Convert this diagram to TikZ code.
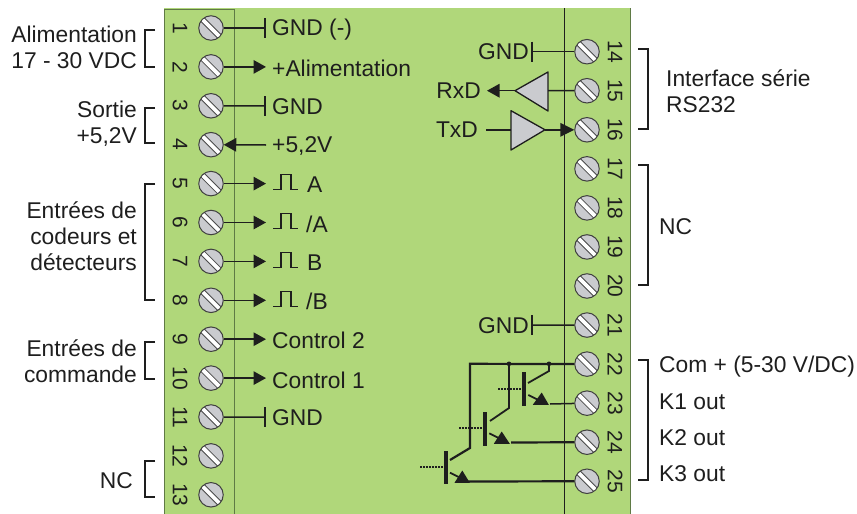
\documentclass[tikz,border=0pt]{standalone}
\usepackage{fontspec}
\setmainfont{Liberation Sans}
\usetikzlibrary{arrows.meta,shapes.geometric,calc}
\definecolor{board}{HTML}{B0D77A}
\definecolor{ink}{HTML}{1E1E1E}
\definecolor{screwgrey}{HTML}{CACBCF}
\definecolor{edgegreen}{HTML}{5F7A45}
\tikzset{
  x=1pt,y=-1pt,
  lab/.style={font=\fontsize{22.8}{26}\selectfont,text=ink,inner sep=0pt},
  labl/.style={lab,anchor=west},
  labr/.style={lab,anchor=east},
  grp/.style={lab,anchor=east,align=right},
  numl/.style={font=\fontsize{21}{24}\selectfont,text=ink,inner sep=0pt,rotate=-90},
  screw/.style={circle,draw=ink!85,line width=1pt,fill=screwgrey,minimum size=24.5pt,inner sep=0pt,
    path picture={
      \draw[ink!80,line width=5.8pt] ([shift={(-10pt,10pt)}]path picture bounding box.center) -- ([shift={(10pt,-10pt)}]path picture bounding box.center);
      \draw[white,line width=3.8pt] ([shift={(-10pt,10pt)}]path picture bounding box.center) -- ([shift={(10pt,-10pt)}]path picture bounding box.center);
    }},
  wire/.style={ink,line width=1.5pt},
  heavy/.style={ink,line width=2.2pt},
  mid/.style={ink,line width=1.8pt},
  arrowed/.style={-{Triangle[length=12.5pt,width=13.5pt]}},
  bar/.style={ink,line width=1.6pt},
  brk/.style={ink,line width=1.6pt},
  gate/.style={draw=ink,line width=1.3pt,fill=screwgrey,line join=round},
  tbar/.style={ink,line width=4.5pt},
  dots/.style={ink,line width=1.4pt,dash pattern=on 1.5pt off 1.5pt},
  pulse/.style={ink,line width=1.6pt},
}
\begin{document}
\begin{tikzpicture}
\useasboundingbox (0,0) rectangle (857,514);
\fill[board] (164,8) rectangle (630,514);
\draw[edgegreen,line width=1pt] (164,9) -- (164,514);
\draw[edgegreen,line width=1pt] (164,9) -- (234,9);
\draw[edgegreen,line width=1pt] (234,9) -- (234,514);
\draw[ink,line width=0.9pt] (564,8) -- (564,514);
\draw[edgegreen,line width=1pt] (630,8) -- (630,514);
% screws and numbers
\foreach \n in {1,...,13}{
  \node[screw] (s\n) at (211,{28+38.9*(\n-1)}) {};
  \node[numl] (n\n) at (180,{28+38.9*(\n-1)}) {\n};
}
\foreach \n in {14,...,25}{
  \node[screw] (s\n) at (587,{51.7+39.05*(\n-14)}) {};
  \node[numl] (n\n) at (615,{51.7+39.05*(\n-14)}) {\n};
}
% left labels
\node[labl] (l1) at (272,29.5) {GND (-)};
\node[labl] (l2) at (272,68) {+Alimentation};
\node[labl] (l3) at (272,107) {GND};
\node[labl] (l4) at (272,146) {+5,2V};
\node[labl] (l5) at (307,185) {A};
\node[labl] (l6) at (306,224) {/A};
\node[labl] (l7) at (307,263) {B};
\node[labl] (l8) at (306,301) {/B};
\node[labl] (l9) at (272,340) {Control 2};
\node[labl] (l10) at (272,380) {Control 1};
\node[labl] (l11) at (272,418) {GND};
% left connectors
\coordinate (e1) at (265,28); \coordinate (e3) at (265,106); \coordinate (e11) at (265,417);
\foreach \n in {1,3,11}{
  \draw[wire] (s\n) -- (e\n);
  \draw[bar] ($(e\n)+(0,-10)$) -- ($(e\n)+(0,10)$);
}
\foreach \n in {2,5,6,7,8,9,10}{
  \draw[wire,arrowed] (s\n) -- ($(s\n)+(55,0)$);
}
\coordinate (e4) at (266,145);
\draw[wire,arrowed] (e4) -- (s4);
% pulses
\foreach \n in {5,6,7,8}{
  \draw[pulse] ($(s\n)+(62,6)$) -- ++(8,0) -- ++(0,-15) -- ++(10,0) -- ++(0,15) -- ++(7,0);
}
% left brackets
\draw[brk] (155,30) -- (145,30) -- (145,67) -- (155,67);
\draw[brk] (155,108) -- (145,108) -- (145,143) -- (155,143);
\draw[brk] (155,184) -- (145,184) -- (145,300) -- (155,300);
\draw[brk] (155,342) -- (145,342) -- (145,379) -- (155,379);
\draw[brk] (155,461) -- (145,461) -- (145,497) -- (155,497);
% left group labels
\node[grp] (g1) at (137,47.5) {Alimentation\\17 - 30 VDC};
\node[grp] (g2) at (137,124) {Sortie\\+5,2V};
\node[grp] (g3) at (137,236.5) {Entrées de\\codeurs et\\détecteurs};
\node[grp] (g4) at (137,361) {Entrées de\\commande};
\node[grp] (g5) at (133,481) {NC};
% right brackets
\draw[brk] (638,49) -- (648,49) -- (648,129) -- (638,129);
\draw[brk] (638,165) -- (648,165) -- (648,285) -- (638,285);
\draw[brk] (638,360) -- (648,360) -- (648,480) -- (638,480);
\node[labl,align=left] (g6) at (666,91) {Interface série\\RS232};
\node[labl] (g7) at (659,227) {NC};
\node[labl] (c22) at (659,367) {Com + (5-30 V/DC)};
\node[labl] (c23) at (659,402) {K1 out};
\node[labl] (c24) at (659,438) {K2 out};
\node[labl] (c25) at (659,474) {K3 out};
% GND right
\node[labr] (r14) at (529,52) {GND};
\node[labr] (r21) at (529,326) {GND};
\coordinate (b14) at (532,51.7); \coordinate (b21) at (532,325);
\foreach \n/\b in {14/b14,21/b21}{
  \draw[wire] (s\n) -- (\b);
  \draw[bar] ($(\b)+(0,-10)$) -- ($(\b)+(0,10)$);
}
% RS232
\node[labr] (rx) at (481,91) {RxD};
\node[labr] (tx) at (478,130) {TxD};
\coordinate (g1b) at (548,72); \coordinate (g1c) at (548,111); \coordinate (g1t) at (515,90.7);
\draw[gate] (g1b) -- (g1c) -- (g1t) -- cycle;
\draw[wire] (s15) -- (548,90.7);
\coordinate (rxe) at (487,90.7);
\draw[wire,arrowed] (g1t) -- (rxe);
\coordinate (g2b) at (511,110.7); \coordinate (g2c) at (511,150); \coordinate (g2t) at (545,129.8);
\draw[gate] (g2b) -- (g2c) -- (g2t) -- cycle;
\coordinate (txs) at (486,129.8);
\draw[wire] (txs) -- (511,129.8);
\draw[wire,-{Triangle[length=14pt,width=13.5pt]}] (g2t) -- (s16);
% transistors
\coordinate (j1) at (509,363.8); \coordinate (j2) at (549,363.8);
\draw[heavy] (s22) -- (470,363.8) -- (470,448) -- (450,460);
\draw[mid] (j1) -- (509,408) -- (490,421);
\draw[mid] (j2) -- (549,371) -- (528,383);
\fill[ink] (j1) circle (2.3); \fill[ink] (j2) circle (2.3);
% T1
\draw[tbar] (524,372) -- (524,406);
\draw[dots] (498,389) -- (522,389);
\draw[mid] (528.3,395) -- (538.3,400);
\fill[ink] (541.7,392.5) -- (532.8,404.8) -- (548.8,404.8) -- cycle;
\draw[wire] (550,404) -- (s23);
% T2
\draw[tbar] (485,412) -- (485,445.5);
\draw[dots] (459,428) -- (482,428);
\draw[mid] (489.3,433.3) -- (499.3,438.3);
\fill[ink] (501.7,431.5) -- (493.8,443.8) -- (509.8,443.8) -- cycle;
\draw[heavy] (511,442.5) -- (s24);
% T3
\draw[tbar] (446,451) -- (446,484);
\draw[dots] (420,467) -- (443,467);
\draw[mid] (450,472.7) -- (460,477.7);
\fill[ink] (462.3,470.5) -- (454.5,482.8) -- (469.8,482.8) -- cycle;
\draw[heavy] (468,481.5) -- (s25);
\end{tikzpicture}
\end{document}
